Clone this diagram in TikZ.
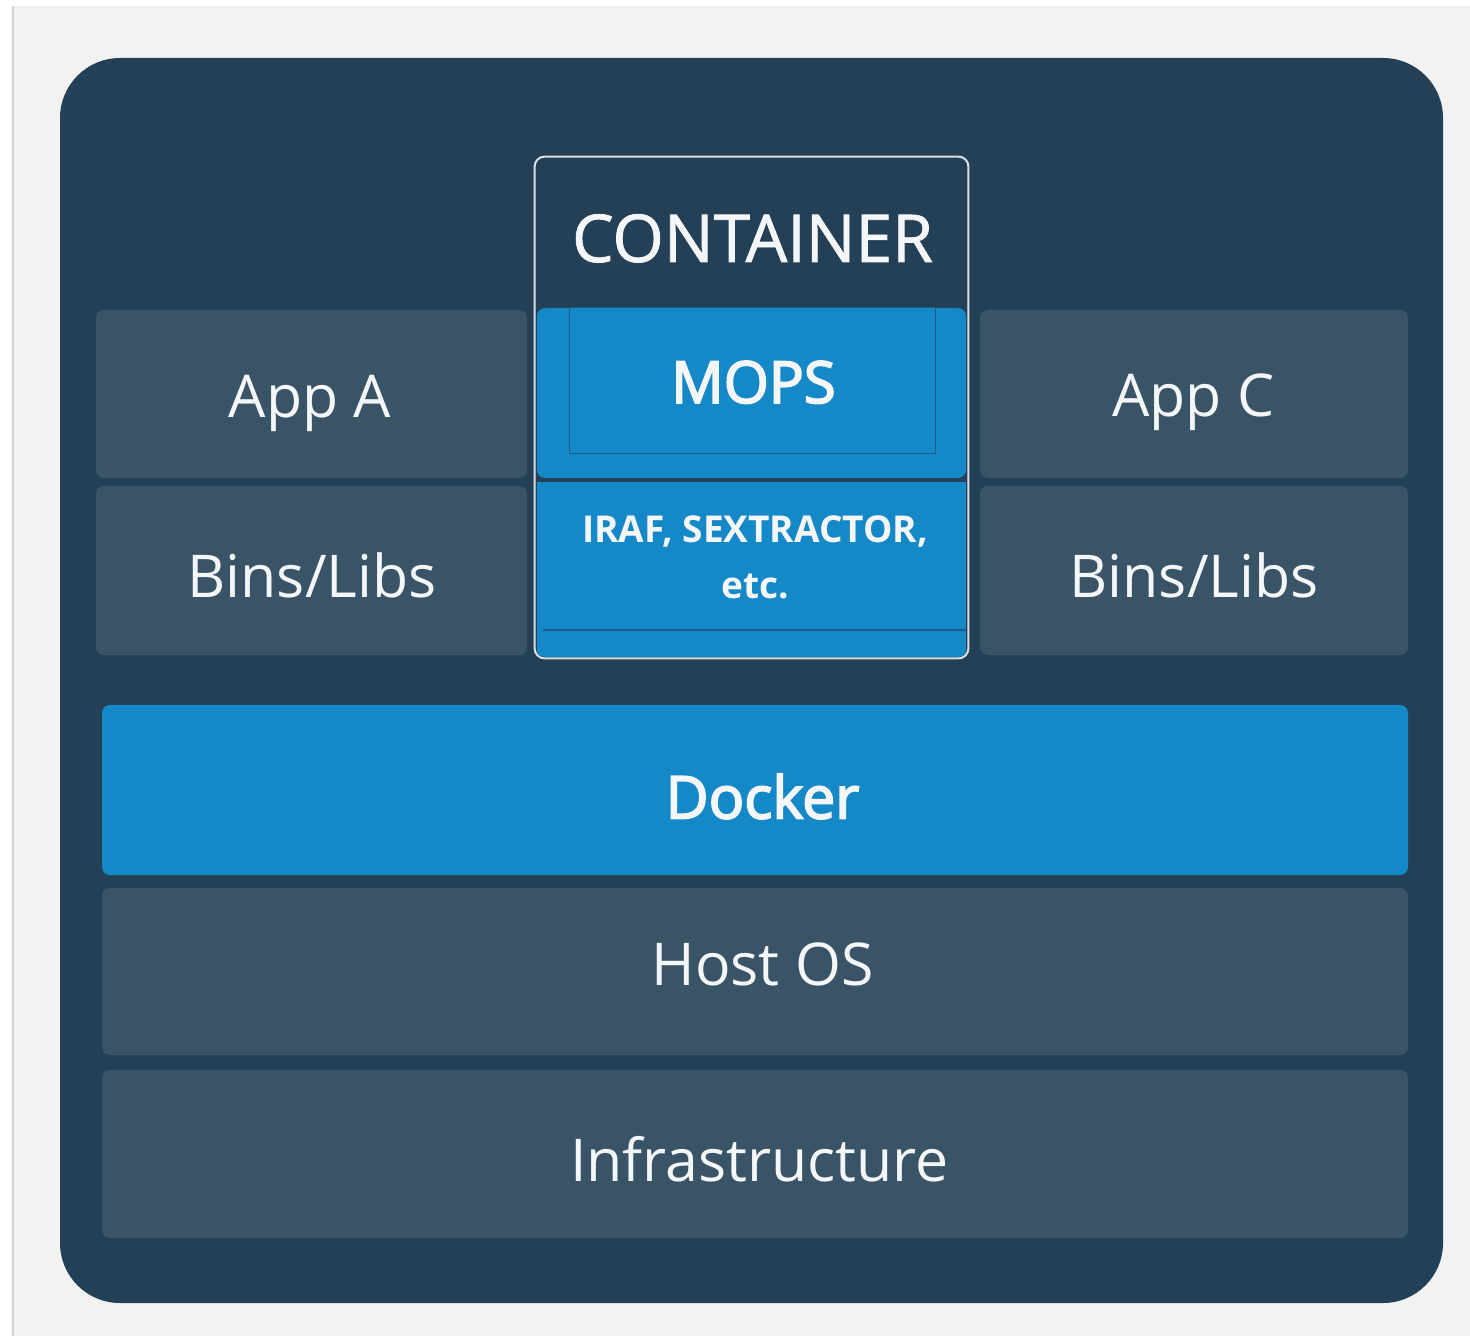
\documentclass[tikz,border=0pt]{standalone}
\usepackage{fontspec}
\setmainfont{Open Sans}
\newfontfamily\semios{Open Sans}[FakeBold=3]
\newfontfamily\medos{Open Sans}[FakeBold=1.2]
\definecolor{pagebg}{HTML}{F2F2F2}
\definecolor{pageline}{HTML}{CFCFCF}
\definecolor{darkbg}{HTML}{234056}
\definecolor{panel}{HTML}{3A5467}
\definecolor{dockblue}{HTML}{1588C8}
\definecolor{edgeblue}{HTML}{1C5C86}
\definecolor{txt}{HTML}{F4F6F8}
\definecolor{contedge}{HTML}{D9E0E6}
\tikzset{
  panelbox/.style={rectangle, fill=panel, rounded corners=4pt, inner sep=0pt},
  bluebox/.style={rectangle, fill=dockblue, inner sep=0pt},
  lbl/.style={inner sep=0pt, text=txt, anchor=base},
  big/.style={font=\fontsize{29.5}{34}\selectfont},
}
\begin{document}
\begin{tikzpicture}[x=0.5pt,y=-0.5pt]
\useasboundingbox (0,0) rectangle (1470,1336);
\fill[white] (0,0) rectangle (1470,1336);
\fill[pagebg] (12,6) rectangle (1470,1336);
\fill[pageline] (12,6) rectangle (14,1336);
% outer
\node[rectangle, fill=darkbg, rounded corners=30pt, minimum width=1383*0.5pt, minimum height=1245*0.5pt, inner sep=0pt] (outer) at (751.5,680.5) {};
% side panels
\node[panelbox, minimum width=431*0.5pt, minimum height=168*0.5pt] (appa) at (311.5,394) {};
\node[panelbox, minimum width=431*0.5pt, minimum height=169*0.5pt] (binsa) at (311.5,570.5) {};
\node[panelbox, minimum width=428*0.5pt, minimum height=168*0.5pt] (appc) at (1194,394) {};
\node[panelbox, minimum width=428*0.5pt, minimum height=169*0.5pt] (binsc) at (1194,570.5) {};
% layers
\node[panelbox, fill=dockblue, minimum width=1306*0.5pt, minimum height=170*0.5pt] (docker) at (755,790) {};
\node[panelbox, minimum width=1306*0.5pt, minimum height=167*0.5pt] (hostos) at (755,971.5) {};
\node[panelbox, minimum width=1306*0.5pt, minimum height=168*0.5pt] (infra) at (755,1154) {};
% container
\node[rectangle, fill=darkbg, rounded corners=5pt, minimum width=433*0.5pt, minimum height=501*0.5pt, inner sep=0pt] (cont) at (751.5,407.5) {};
\node[bluebox, rounded corners=4pt, minimum width=429*0.5pt, minimum height=170*0.5pt] (mopsarea) at (751.5,393) {};
\node[bluebox, draw=edgeblue, line width=0.5pt, minimum width=366*0.5pt, minimum height=145*0.5pt] (mops) at (752,380.5) {};
\begin{scope}
\clip[rounded corners=4.5pt] (536,158) rectangle (967,657);
\node[bluebox, minimum width=429*0.5pt, minimum height=175*0.5pt] (iraf) at (751.5,569) {};
\end{scope}
\draw[darkbg, line width=1pt] (540,480) -- (966,480);
\draw[edgeblue, line width=0.6pt] (543,630) -- (966,630);
\draw[draw=contedge, line width=1pt, rounded corners=5pt] (cont.north west) rectangle (cont.south east);
% labels
\node[lbl, font=\medos\fontsize{33}{38}\selectfont] (contlbl) at (752.5,262) {CONTAINER};
\node[lbl, font=\semios\fontsize{29}{34}\selectfont] (mopslbl) at (753.5,403) {MOPS};
\node[lbl, font=\bfseries\fontsize{18.5}{24}\selectfont] (iraflbl) at (755,542) {IRAF, SEXTRACTOR,};
\node[lbl, font=\bfseries\fontsize{18.5}{24}\selectfont] (etclbl) at (755,598) {etc.};
\node[lbl, big] (appalbl) at (310,417) {App A};
\node[lbl, big] (binsalbl) at (312,597) {Bins/Libs};
\node[lbl, big] (appclbl) at (1193.5,416) {App C};
\node[lbl, big] (binsclbl) at (1194,597) {Bins/Libs};
\node[lbl, font=\semios\fontsize{29.5}{34}\selectfont] (dockerlbl) at (762.5,818.5) {Docker};
\node[lbl, big] (hostoslbl) at (762.5,985) {Host OS};
\node[lbl, big] (infralbl) at (759.5,1181) {Infrastructure};
\end{tikzpicture}
\end{document}
